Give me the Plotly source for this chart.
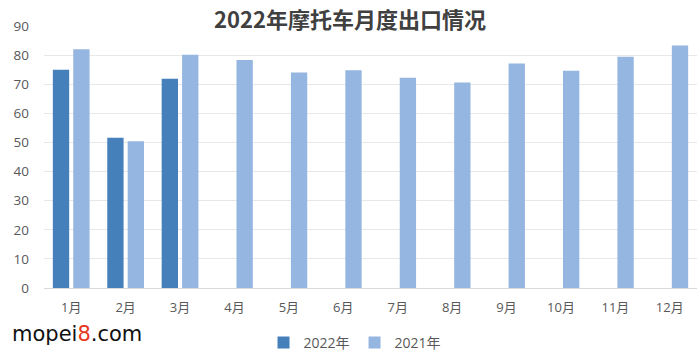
import plotly.graph_objects as go

months = ["1月", "2月", "3月", "4月", "5月", "6月", "7月", "8月", "9月", "10月", "11月", "12月"]
y2022 = [75.0, 51.6, 71.9, None, None, None, None, None, None, None, None, None]
y2021 = [82.0, 50.4, 80.1, 78.3, 74.0, 74.8, 72.2, 70.6, 77.1, 74.6, 79.4, 83.3]
yticks = [0, 10, 20, 30, 40, 50, 60, 70, 80, 90]

font_ui = "Open Sans, Noto Sans CJK SC, sans-serif"

fig = go.Figure()
fig.add_trace(go.Bar(name="2022年", x=months, y=y2022, marker=dict(color="#4680bb", line=dict(width=0))))
fig.add_trace(go.Bar(name="2021年", x=months, y=y2021, marker=dict(color="#94b6e0", line=dict(width=0))))

fig.update_layout(
    width=700, height=357,
    margin=dict(l=44, r=3, t=26, b=69),
    paper_bgcolor="white", plot_bgcolor="white",
    barmode="group", bargap=0.25, bargroupgap=0.2,
    title=dict(text="<b>2022年摩托车月度出口情况</b>", x=0.5, xref="container", xanchor="center",
               y=1 - 20 / 357, yref="container", yanchor="middle",
               font=dict(family="Noto Sans CJK SC, sans-serif", size=22, color="#404040")),
    showlegend=True,
    legend=dict(orientation="h", x=355 / 700, xref="container", xanchor="center",
                y=1 - 343 / 357, yref="container", yanchor="middle",
                font=dict(family=font_ui, size=14, color="#595959"),
                itemwidth=30, tracegroupgap=0, bgcolor="rgba(0,0,0,0)"),
    xaxis=dict(showgrid=False, showline=True, linecolor="#d9d9d9", linewidth=1,
               tickfont=dict(family=font_ui, size=13, color="#595959"),
               ticks="", ticklabelstandoff=7, fixedrange=True),
    yaxis=dict(range=[0, 90], tickvals=yticks, showgrid=True, gridcolor="#e8e8e8", gridwidth=1,
               zeroline=False, showline=False, fixedrange=True,
               tickfont=dict(family=font_ui, size=13.5, color="#595959"),
               ticks="", ticklabelstandoff=14),
    annotations=[dict(text="mopei<span style='color:#e8381e'>8</span>.com", xref="paper", yref="paper",
                      x=-34 / 653, y=-(334 - 288) / 262, xanchor="left", yanchor="middle",
                      showarrow=False, font=dict(family="DejaVu Sans, sans-serif", size=21, color="#111111"))],
)

fig.write_html("out.html", config={"displayModeBar": False},
               post_script="document.body.style.margin='0';")
